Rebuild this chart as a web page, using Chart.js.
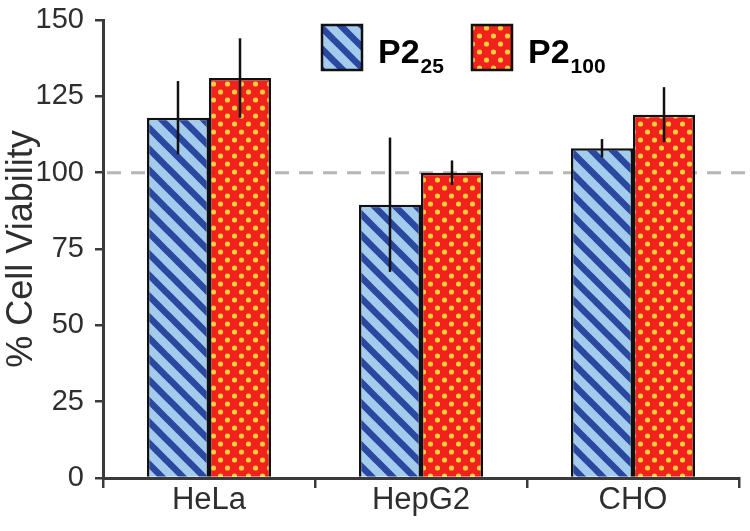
<!DOCTYPE html>
<html>
<head>
<meta charset="utf-8">
<script src="https://cdn.jsdelivr.net/npm/chart.js@4"></script>
<style>
  html, body { margin: 0; padding: 0; background: #fff; }
  #wrap { width: 750px; height: 531px; }
</style>
</head>
<body>
<div id="wrap"><canvas id="chart" width="750" height="531"></canvas></div>
<script>
// data
const categories = ['HeLa', 'HepG2', 'CHO'];
const p2_25 = [118, 89.5, 108];
const p2_25Err = [12, 22, 3];
const p2_100 = [131, 100, 119];
const p2_100Err = [13, 4, 9];
const yTicks = [0, 25, 50, 75, 100, 125, 150];
const refLine = 100;

const FONT = '"Liberation Sans", Arial, sans-serif';

// fill patterns
function stripePattern() {
    const p = 21;
    const c = document.createElement('canvas');
    c.width = p; c.height = p;
    const g = c.getContext('2d');
    g.fillStyle = '#a3cbec';
    g.fillRect(0, 0, p, p);
    g.strokeStyle = '#2b47a0';
    g.lineWidth = 6.5;
    for (let k = -2; k <= 2; k++) {
        g.beginPath();
        g.moveTo(k * p - p, -p);
        g.lineTo(k * p + 2 * p, 2 * p);
        g.stroke();
    }
    return g.createPattern(c, 'repeat');
}

function dotPattern() {
    const w = 14, h = 16;
    const c = document.createElement('canvas');
    c.width = w; c.height = h;
    const g = c.getContext('2d');
    g.fillStyle = '#f0221b';
    g.fillRect(0, 0, w, h);
    g.fillStyle = '#fdd03a';
    [[3.5, 4], [10.5, 12]].forEach(([x, y]) => {
        g.beginPath();
        g.arc(x, y, 2.6, 0, Math.PI * 2);
        g.fill();
    });
    return g.createPattern(c, 'repeat');
}

const bluePat = stripePattern();
const redPat = dotPattern();

// dashed reference line behind the bars
const refLinePlugin = {
    id: 'refLine',
    beforeDatasetsDraw(chart) {
        const ctx = chart.ctx;
        const y = chart.scales.y.getPixelForValue(refLine);
        ctx.save();
        ctx.strokeStyle = '#b5b5b5';
        ctx.lineWidth = 3;
        ctx.setLineDash([14, 10]);
        ctx.beginPath();
        ctx.moveTo(chart.chartArea.left + 4, y);
        ctx.lineTo(chart.width, y);
        ctx.stroke();
        ctx.restore();
    }
};

// error bars, no caps
const errorBarPlugin = {
    id: 'errorBars',
    afterDatasetsDraw(chart) {
        const ctx = chart.ctx;
        const yScale = chart.scales.y;
        const errs = [p2_25Err, p2_100Err];
        ctx.save();
        ctx.strokeStyle = '#111';
        ctx.lineWidth = 2.5;
        chart.data.datasets.forEach((ds, i) => {
            const meta = chart.getDatasetMeta(i);
            meta.data.forEach((bar, j) => {
                const v = ds.data[j];
                const e = errs[i][j];
                ctx.beginPath();
                ctx.moveTo(bar.x, yScale.getPixelForValue(v + e));
                ctx.lineTo(bar.x, yScale.getPixelForValue(v - e));
                ctx.stroke();
            });
        });
        ctx.restore();
    }
};

// legend with subscripts
const legendPlugin = {
    id: 'subLegend',
    afterDraw(chart) {
        const ctx = chart.ctx;
        const items = [
            { fill: bluePat, main: 'P2', sub: '25', x: 322 },
            { fill: redPat, main: 'P2', sub: '100', x: 472 }
        ];
        ctx.save();
        items.forEach(it => {
            ctx.fillStyle = it.fill;
            ctx.fillRect(it.x, 25, 40, 45);
            ctx.strokeStyle = '#111';
            ctx.lineWidth = 2.5;
            ctx.strokeRect(it.x, 25, 40, 45);
            ctx.fillStyle = '#000';
            ctx.textBaseline = 'alphabetic';
            ctx.font = 'bold 34px ' + FONT;
            const tx = it.x + 56;
            ctx.fillText(it.main, tx, 63);
            const w = ctx.measureText(it.main).width;
            ctx.font = 'bold 21px ' + FONT;
            ctx.fillText(it.sub, tx + w + 1, 73);
        });
        ctx.restore();
    }
};

new Chart(document.getElementById('chart'), {
    type: 'bar',
    data: {
        labels: categories,
        datasets: [
            {
                label: 'P2 25',
                data: p2_25,
                backgroundColor: bluePat,
                borderColor: '#111',
                borderWidth: 2.5
            },
            {
                label: 'P2 100',
                data: p2_100,
                backgroundColor: redPat,
                borderColor: '#111',
                borderWidth: 2.5
            }
        ]
    },
    options: {
        responsive: false,
        animation: false,
        layout: { padding: { top: 20, right: 11, left: 0, bottom: 0 } },
        datasets: { bar: { categoryPercentage: 0.585, barPercentage: 1 } },
        plugins: {
            legend: { display: false },
            tooltip: { enabled: false }
        },
        scales: {
            x: {
                grid: {
                    display: true,
                    offset: true,
                    drawOnChartArea: false,
                    drawTicks: true,
                    tickLength: 10,
                    color: '#3a3a3a',
                    lineWidth: 2.5
                },
                border: { color: '#3a3a3a', width: 3 },
                ticks: {
                    color: '#2e2e2e',
                    font: { family: FONT, size: 31 },
                    padding: -6
                },
                afterFit(scale) {
                    scale.height = 53;
                    scale.paddingLeft = 0;
                    scale.paddingRight = 0;
                }
            },
            y: {
                min: 0,
                max: 150,
                afterBuildTicks(scale) {
                    scale.ticks = yTicks.map(v => ({ value: v }));
                },
                grid: {
                    display: true,
                    drawOnChartArea: false,
                    drawTicks: true,
                    tickLength: 8,
                    color: '#3a3a3a',
                    lineWidth: 2.5
                },
                border: { color: '#3a3a3a', width: 3 },
                ticks: {
                    color: '#2e2e2e',
                    font: { family: FONT, size: 29 },
                    padding: 11
                },
                title: {
                    display: true,
                    text: '% Cell Viability',
                    color: '#2e2e2e',
                    font: { family: FONT, size: 36 },
                    padding: { top: 0, bottom: 2 }
                },
                afterFit(scale) {
                    scale.width = 103;
                    scale.paddingTop = 0;
                    scale.paddingBottom = 0;
                }
            }
        }
    },
    plugins: [refLinePlugin, errorBarPlugin, legendPlugin]
});
</script>
</body>
</html>
